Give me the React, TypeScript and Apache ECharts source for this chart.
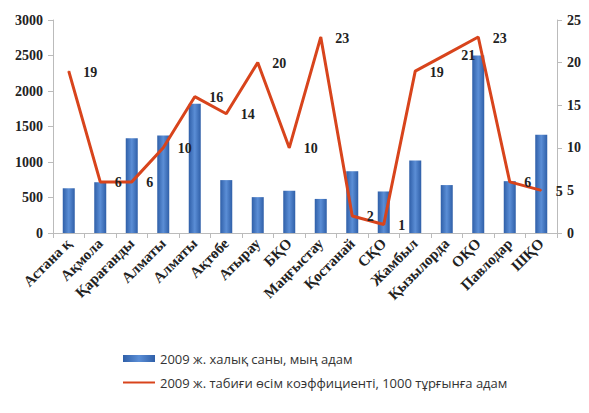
import React, { useEffect, useRef } from "react";
import * as echarts from "echarts";

const categories = [
  "Астана қ", "Ақмола", "Қарағанды", "Алматы", "Алматы", "Ақтөбе", "Атырау", "БҚО",
  "Маңғыстау", "Қостанай", "СҚО", "Жамбыл", "Қызылорда", "ОҚО", "Павлодар", "ШҚО",
];
const population = [630, 715, 1335, 1375, 1820, 745, 505, 595, 480, 870, 585, 1020, 675, 2500, 730, 1385];
const growth = [19, 6, 6, 10, 16, 14, 20, 10, 23, 2, 1, 19, 21, 23, 6, 5];
const leftTicks = [0, 500, 1000, 1500, 2000, 2500, 3000];
const rightTicks = [0, 5, 10, 15, 20, 25];

const barName = "2009 ж. халық саны, мың адам";
const lineName = "2009 ж. табиғи өсім коэффициенті, 1000 тұрғынға адам";

export default function App() {
  const ref = useRef<HTMLDivElement>(null);
  useEffect(() => {
    if (!ref.current) return;
    const chart = echarts.init(ref.current, null, { renderer: "svg" });
    const serif = "Liberation Serif";
    const axisLabel = { fontFamily: serif, fontWeight: "bold", fontSize: 14, color: "#222" };
    chart.setOption({
      animation: false,
      backgroundColor: "#fff",
      grid: { left: 53, right: 32, top: 20, bottom: 180 },
      legend: {
        orient: "vertical",
        left: 118,
        top: 347,
        itemWidth: 32,
        itemHeight: 7,
        itemGap: 11,
        textStyle: { fontFamily: "Open Sans", fontSize: 13, color: "#333" },
        data: [
          { name: barName, icon: "rect" },
          {
            name: lineName,
            icon: "path://M0,0 M0,2.5 L32,2.5 L32,4.5 L0,4.5 Z M32,7",
            itemStyle: { color: "#d8441c" },
          },
        ],
      },
      xAxis: {
        type: "category",
        data: categories,
        axisLine: { lineStyle: { color: "#bbb" } },
        axisTick: { show: true, alignWithLabel: false, lineStyle: { color: "#bbb" }, length: 5 },
        axisLabel: { ...axisLabel, fontSize: 15, rotate: 45, interval: 0, margin: 8 },
      },
      yAxis: [
        {
          type: "value",
          min: leftTicks[0],
          max: leftTicks[leftTicks.length - 1],
          interval: 500,
          splitLine: { show: false },
          axisLine: { show: true, lineStyle: { color: "#bbb" } },
          axisTick: { show: true, lineStyle: { color: "#bbb" } },
          axisLabel: { ...axisLabel, margin: 10, formatter: (v: number) => String(v) },
        },
        {
          type: "value",
          min: rightTicks[0],
          max: rightTicks[rightTicks.length - 1],
          interval: 5,
          splitLine: { show: false },
          axisLine: { show: true, lineStyle: { color: "#bbb" } },
          axisTick: { show: true, lineStyle: { color: "#bbb" } },
          axisLabel: { ...axisLabel, margin: 10, formatter: (v: number) => String(v) },
        },
      ],
      series: [
        {
          name: barName,
          type: "bar",
          data: population,
          barWidth: 12,
          itemStyle: {
            color: new echarts.graphic.LinearGradient(0, 0, 1, 0, [
              { offset: 0, color: "#2f5fa8" },
              { offset: 0.5, color: "#5b8ed6" },
              { offset: 1, color: "#2f5fa8" },
            ]),
          },
        },
        {
          name: lineName,
          type: "line",
          yAxisIndex: 1,
          data: growth,
          symbol: "circle",
          symbolSize: 1,
          showSymbol: true,
          lineStyle: { color: "#d8441c", width: 3 },
          itemStyle: { color: "#d8441c" },
          label: {
            show: true,
            position: "right",
            distance: 14,
            offset: [0, 1],
            fontFamily: serif,
            fontWeight: "bold",
            fontSize: 14,
            color: "#222",
          },
        },
      ],
    });
    return () => chart.dispose();
  }, []);
  return <div ref={ref} style={{ width: 589, height: 413, margin: -8 }} />;
}
